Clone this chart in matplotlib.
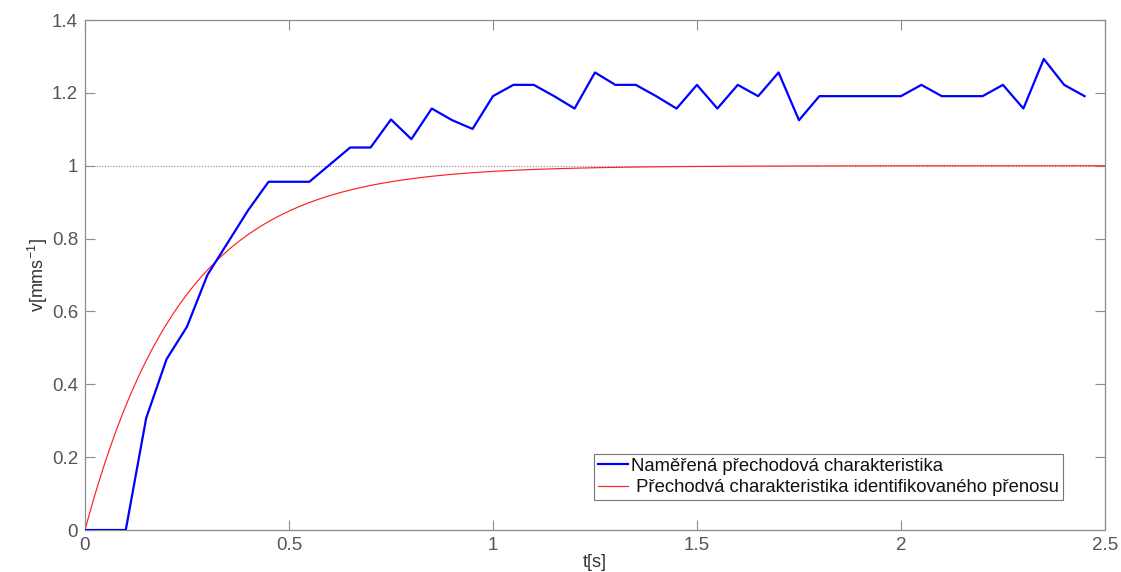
import numpy as np
import matplotlib
matplotlib.use("Agg")
import matplotlib.pyplot as plt

plt.rcParams['font.family'] = ['Liberation Sans', 'DejaVu Sans']

# Measured step response (sampled every 0.05 s)
t_meas = [0.00, 0.05, 0.10, 0.15, 0.20, 0.25, 0.30, 0.35, 0.40, 0.45,
          0.50, 0.55, 0.60, 0.65, 0.70, 0.75, 0.80, 0.85, 0.90, 0.95,
          1.00, 1.05, 1.10, 1.15, 1.20, 1.25, 1.30, 1.35, 1.40, 1.45,
          1.50, 1.55, 1.60, 1.65, 1.70, 1.75, 1.80, 1.85, 1.90, 1.95,
          2.00, 2.05, 2.10, 2.15, 2.20, 2.25, 2.30, 2.35, 2.40, 2.45]
v_meas = [0.000, 0.000, 0.000, 0.307, 0.469, 0.558, 0.700, 0.789, 0.878, 0.956,
          0.956, 0.956, 1.003, 1.050, 1.050, 1.127, 1.073, 1.157, 1.125, 1.101,
          1.191, 1.222, 1.222, 1.191, 1.157, 1.256, 1.222, 1.222, 1.191, 1.157,
          1.222, 1.157, 1.222, 1.191, 1.256, 1.125, 1.191, 1.191, 1.191, 1.191,
          1.191, 1.222, 1.191, 1.191, 1.191, 1.222, 1.157, 1.293, 1.222, 1.191]

# Identified first-order model: K / (T s + 1)
K_model = 1.0
T_model = 0.24

x_ticks = [0, 0.5, 1, 1.5, 2, 2.5]
x_tick_labels = ['0', '0.5', '1', '1.5', '2', '2.5']
y_ticks = [0, 0.2, 0.4, 0.6, 0.8, 1.0, 1.2, 1.4]
y_tick_labels = ['0', '0.2', '0.4', '0.6', '0.8', '1', '1.2', '1.4']

label_meas = 'Naměřená přechodová charakteristika'
label_model = ' Přechodvá charakteristika identifikovaného přenosu'

fig = plt.figure(figsize=(11.21, 5.72), dpi=100)
ax = fig.add_axes([0.0758, 0.0734, 0.9099, 0.8916])

t_model = np.linspace(0, 2.5, 500)
v_model = K_model * (1 - np.exp(-t_model / T_model))

ax.axhline(1.0, color='#8a8a8a', lw=0.8, ls=(0, (1, 1.5)), zorder=1)
ax.plot(t_meas, v_meas, color='#0000ff', lw=1.6, label=label_meas, zorder=3)
ax.plot(t_model, v_model, color='#ff2020', lw=0.85, label=label_model, zorder=2)

ax.set_xlim(0, 2.5)
ax.set_ylim(0, 1.4)
ax.set_xticks(x_ticks)
ax.set_xticklabels(x_tick_labels)
ax.set_yticks(y_ticks)
ax.set_yticklabels(y_tick_labels)

spine_col = '#8c8c8c'
for s in ax.spines.values():
    s.set_color(spine_col)
    s.set_linewidth(0.9)
ax.tick_params(direction='in', length=7, width=0.8, color=spine_col,
               top=True, right=True, labelsize=13.5, labelcolor='#555555', pad=5)

ax.set_xlabel('t[s]', fontsize=13, color='#333333', labelpad=0)
ax.set_ylabel('v[mms$^{\\mathregular{-1}}$]', fontsize=13, color='#333333', labelpad=1)

leg = ax.legend(loc='lower right', bbox_to_anchor=(0.9588, 0.0588), fontsize=13.3,
                frameon=True, fancybox=False, handlelength=1.6, handletextpad=0.2,
                borderpad=0.2, labelspacing=0.25, borderaxespad=0)
leg.get_frame().set_edgecolor('#555555')
leg.get_frame().set_linewidth(0.8)
for txt in leg.get_texts():
    txt.set_color('#111111')

fig.savefig('out.png', dpi=100)
